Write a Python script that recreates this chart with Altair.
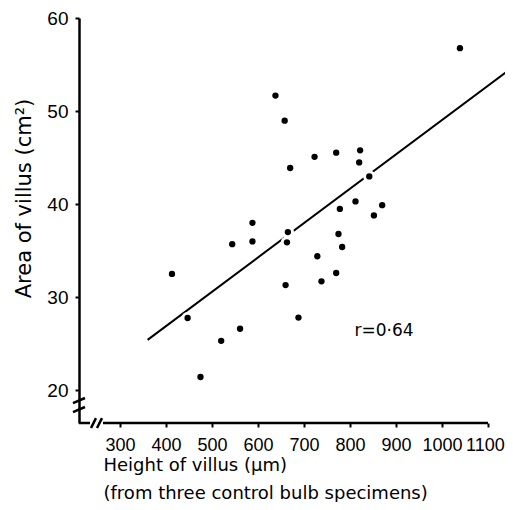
import altair as alt
import pandas as pd

# --- data ---
height_um = [1039, 638, 658, 670, 723, 770, 822, 820, 842, 778, 812, 870, 852, 588, 544,
             588, 665, 663, 775, 783, 729, 770, 738, 660, 688, 413, 447, 561, 520, 475]
area_cm2 = [56.8, 51.7, 49.0, 43.9, 45.1, 45.55, 45.8, 44.5, 43.0, 39.5, 40.3, 39.9, 38.8, 38.0, 35.7,
            36.0, 37.0, 35.9, 36.8, 35.4, 34.4, 32.6, 31.7, 31.3, 27.8, 32.5, 27.75, 26.6, 25.3, 21.4]

fit_x = [360, 1155]
fit_y = [25.4, 54.8]

x_ticks = [300, 400, 500, 600, 700, 800, 900, 1000, 1100]
y_ticks = [20, 30, 40, 50, 60]

x_domain = [210.9, 1137]
y_domain = [16.45, 60.05]

# axis line pieces and break strokes (data units)
axis_x0 = [210.9, 263]
axis_x1 = [234.8, 1100]
axis_y = [16.45, 16.45]

brk_x0 = [237, 250, 197.8, 197.8]
brk_x1 = [247.8, 260.9, 223.9, 223.9]
brk_y0 = [15.91, 15.91, 18.60, 17.63]
brk_y1 = [16.98, 16.98, 19.14, 18.17]

r_text = ["r=0·64"]
r_x = [874]
r_y = [26.35]

FONT = "DejaVu Sans"
TICKFONT = "Liberation Sans"

pts = pd.DataFrame({"x": height_um, "y": area_cm2})
fit = pd.DataFrame({"x": fit_x, "y": fit_y})
axl = pd.DataFrame({"x": axis_x0, "x2": axis_x1, "y": axis_y})
brk = pd.DataFrame({"x": brk_x0, "x2": brk_x1, "y": brk_y0, "y2": brk_y1})
lab = pd.DataFrame({"x": r_x, "y": r_y, "t": r_text})

xs = alt.Scale(domain=x_domain, nice=False, zero=False)
ys = alt.Scale(domain=y_domain, nice=False, zero=False)

xaxis = alt.Axis(values=x_ticks, format="d", domain=False, grid=False, tickSize=4, tickWidth=2,
                 tickColor="black", labelFont=TICKFONT, labelFontSize=18, labelColor="black",
                 labelPadding=9, labelFlush=False, labelOverlap=False,
                 labelOffset=alt.condition("datum.value == 1100", alt.value(-3), alt.value(0)),
                 title=["Height of villus (μm)", "(from three control bulb specimens)"],
                 titleFont=FONT, titleFontSize=18, titleFontWeight="normal", titleColor="black",
                 titleAlign="left", titleX=24, titleY=33, titleBaseline="top", titleLineHeight=28)
yaxis = alt.Axis(values=y_ticks, format="d", domain=True, domainWidth=2.5, domainColor="black",
                 grid=False, tickSize=4, tickWidth=2, tickColor="black", labelFont=TICKFONT,
                 labelFontSize=19, labelColor="black", labelPadding=7, labelFlush=False,
                 title="Area of villus (cm²)", titleFont=FONT, titleFontSize=21,
                 titleFontWeight="normal", titleColor="black", titleAngle=270,
                 titleX=-55, titleY=180, titleAlign="center", titleBaseline="middle")


def X(f="x"):
    return alt.X(f, type="quantitative", scale=xs, axis=xaxis)


def Y(f="y"):
    return alt.Y(f, type="quantitative", scale=ys, axis=yaxis)


line = alt.Chart(fit).mark_line(color="black", strokeWidth=2).encode(x=X(), y=Y())
halo = alt.Chart(pts).mark_circle(color="white", opacity=1, size=150).encode(x=X(), y=Y())
dots = alt.Chart(pts).mark_circle(color="black", opacity=1, size=40).encode(x=X(), y=Y())
xline = alt.Chart(axl).mark_rule(color="black", strokeWidth=2.5).encode(
    x=X(), x2="x2", y=Y())
breaks = alt.Chart(brk).mark_rule(color="black", strokeWidth=2.5).encode(
    x=X(), x2="x2", y=Y(), y2="y2")
rtxt = alt.Chart(lab).mark_text(font=FONT, fontSize=17, color="black", align="center",
                                baseline="middle").encode(x=X(), y=Y(), text="t:N")

chart = alt.layer(line, halo, dots, xline, breaks, rtxt).properties(
    width=426, height=405,
    padding={"left": 71, "top": 10, "right": 0, "bottom": 79},
    autosize=alt.AutoSizeParams(type="none"),
    background="white",
).configure_view(stroke=None)

chart.save("out.html", embed_options={"renderer": "svg", "actions": False})
